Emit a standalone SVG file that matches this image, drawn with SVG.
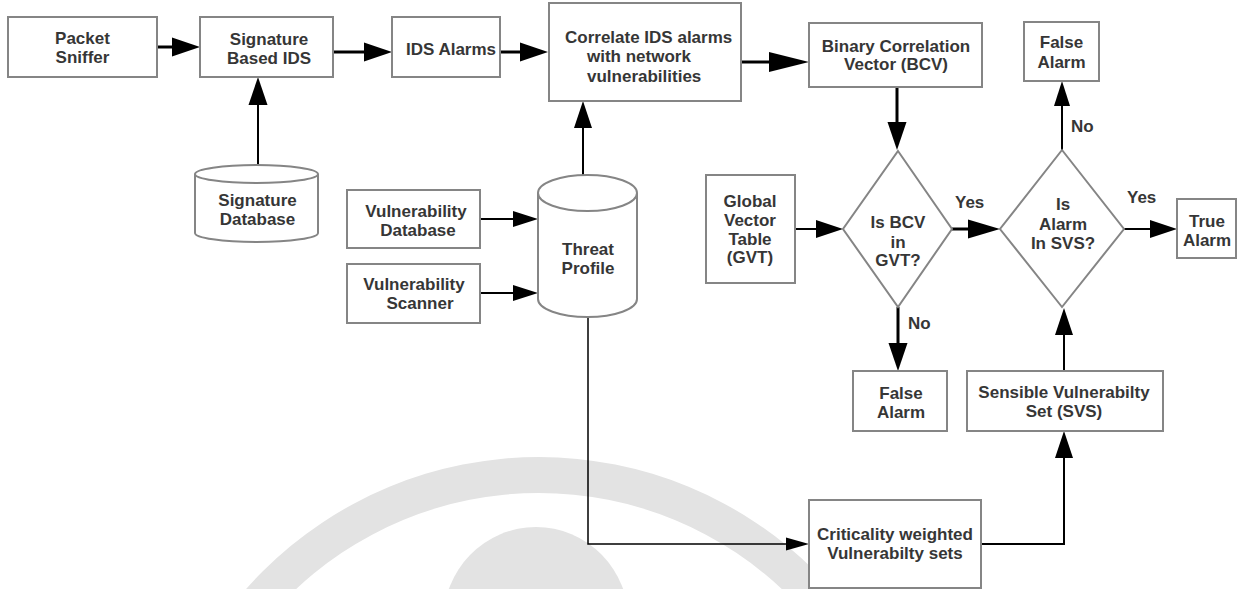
<svg xmlns="http://www.w3.org/2000/svg" width="1248" height="589" viewBox="0 0 1248 589">
  <style>
    .box { fill: #ffffff; stroke: #858585; stroke-width: 2; }
    .lbl { font-family: "Liberation Sans", Arial, sans-serif; font-weight: bold; font-size: 17px; fill: #363636; text-anchor: middle; }
    .lbs { font-family: "Liberation Sans", Arial, sans-serif; font-weight: bold; font-size: 17px; fill: #363636; }
    .thick { fill: none; stroke: #000; stroke-width: 3; }
    .thin { fill: none; stroke: #000; stroke-width: 2; }
    .hair { fill: none; stroke: #000; stroke-width: 1.5; }
  </style>
  <defs>
    <!-- arrowheads: reference point at the base, tip extends forward -->
    <marker id="ahA" viewBox="0 -10 28 20" markerWidth="28" markerHeight="20" refX="0" refY="0" orient="auto" markerUnits="userSpaceOnUse"><path d="M0,-9.5 L28,0 L0,9.5 Z" fill="#000"/></marker>
    <marker id="ahL" viewBox="0 -10 40 20" markerWidth="40" markerHeight="20" refX="0" refY="0" orient="auto" markerUnits="userSpaceOnUse"><path d="M0,-10 L40,0 L0,10 Z" fill="#000"/></marker>
    <marker id="ahY" viewBox="0 -10 32 20" markerWidth="32" markerHeight="20" refX="0" refY="0" orient="auto" markerUnits="userSpaceOnUse"><path d="M0,-9.5 L32,0 L0,9.5 Z" fill="#000"/></marker>
    <marker id="ahM" viewBox="0 -9 27 18" markerWidth="27" markerHeight="18" refX="0" refY="0" orient="auto" markerUnits="userSpaceOnUse"><path d="M0,-9 L27,0 L0,9 Z" fill="#000"/></marker>
    <marker id="ahV" viewBox="0 -8 25 16" markerWidth="25" markerHeight="16" refX="0" refY="0" orient="auto" markerUnits="userSpaceOnUse"><path d="M0,-8 L25,0 L0,8 Z" fill="#000"/></marker>
    <marker id="ahS" viewBox="0 -7 23 14" markerWidth="23" markerHeight="14" refX="0" refY="0" orient="auto" markerUnits="userSpaceOnUse"><path d="M0,-6.5 L23,0 L0,6.5 Z" fill="#000"/></marker>
  </defs>

  <rect width="1248" height="589" fill="#ffffff"/>

  <!-- faint emblem in the background -->
  <g id="emblem" fill="#e3e3e3">
    <path fill-rule="evenodd" d="M148,848 A391,391 0 1 1 930,848 A391,391 0 1 1 148,848 Z M184,848 A355,355 0 1 0 894,848 A355,355 0 1 0 184,848 Z"/>
    <ellipse cx="536" cy="622" rx="93" ry="95"/>
  </g>

  <!-- connectors -->
  <g id="connectors">
    <path class="thick" d="M157,47 H172" marker-end="url(#ahA)"/>
    <path class="thick" d="M333,52 H364" marker-end="url(#ahA)"/>
    <path class="thin" d="M258,165 V105" marker-end="url(#ahA)"/>
    <path class="thick" d="M500,52 H520" marker-end="url(#ahA)"/>
    <path class="thick" d="M741,62 H769" marker-end="url(#ahL)"/>
    <path class="thick" d="M897,87 V122" marker-end="url(#ahA)"/>
    <path class="thin" d="M583,175 V128" marker-end="url(#ahM)"/>
    <path class="thin" d="M480,219 H513" marker-end="url(#ahV)"/>
    <path class="thin" d="M480,293 H513" marker-end="url(#ahV)"/>
    <path class="thin" d="M795,229 H816" marker-end="url(#ahM)"/>
    <path class="thick" d="M952,229 H968" marker-end="url(#ahY)"/>
    <path class="thin" d="M1124,229 H1150" marker-end="url(#ahM)"/>
    <path class="thin" d="M1062,150 V106" marker-end="url(#ahV)"/>
    <path class="thick" d="M898,307 V343" marker-end="url(#ahA)"/>
    <path class="thin" d="M1064,371 V335" marker-end="url(#ahM)"/>
    <path class="hair" d="M588,317 V544 H786" marker-end="url(#ahS)"/>
    <path class="thin" d="M981,544 H1064 V458" marker-end="url(#ahM)"/>
    <text class="lbs" x="955" y="208">Yes</text>
    <text class="lbs" x="1127" y="203">Yes</text>
    <text class="lbs" x="1071" y="132">No</text>
    <text class="lbs" x="908" y="329">No</text>
  </g>

  <g id="packet-sniffer">
    <rect class="box" x="8" y="17" width="149" height="60"/>
    <text class="lbl" x="82.5" y="44">Packet</text>
    <text class="lbl" x="82.5" y="63">Sniffer</text>
  </g>

  <g id="signature-ids">
    <rect class="box" x="200" y="17" width="133" height="60"/>
    <text class="lbl" x="269" y="45">Signature</text>
    <text class="lbl" x="269" y="64">Based IDS</text>
  </g>

  <g id="ids-alarms">
    <rect class="box" x="392" y="17" width="108" height="60"/>
    <text class="lbl" x="451" y="55">IDS Alarms</text>
  </g>

  <g id="correlate">
    <rect class="box" x="549" y="3" width="192" height="98"/>
    <text class="lbs" x="565" y="43">Correlate IDS alarms</text>
    <text class="lbs" x="587" y="62">with network</text>
    <text class="lbs" x="587" y="82">vulnerabilities</text>
  </g>

  <g id="bcv">
    <rect class="box" x="809" y="23" width="173" height="64"/>
    <text class="lbl" x="896" y="52">Binary Correlation</text>
    <text class="lbl" x="896" y="70">Vector (BCV)</text>
  </g>

  <g id="false-alarm-top">
    <rect class="box" x="1024" y="22" width="75" height="59"/>
    <text class="lbl" x="1061.5" y="48">False</text>
    <text class="lbl" x="1061.5" y="68">Alarm</text>
  </g>

  <g id="signature-database">
    <path class="box" d="M195,174 V233 A61.5,9 0 0 0 318,233 V174 A61.5,9 0 0 0 195,174 Z"/>
    <path fill="none" stroke="#858585" stroke-width="2" d="M195,174 A61.5,9 0 0 0 318,174"/>
    <text class="lbl" x="257.5" y="206">Signature</text>
    <text class="lbl" x="257.5" y="225">Database</text>
  </g>

  <g id="vulnerability-database">
    <rect class="box" x="347" y="190" width="133" height="58"/>
    <text class="lbl" x="416" y="217">Vulnerability</text>
    <text class="lbl" x="418" y="236">Database</text>
  </g>

  <g id="vulnerability-scanner">
    <rect class="box" x="347" y="264" width="133" height="59"/>
    <text class="lbl" x="414" y="290">Vulnerability</text>
    <text class="lbl" x="420" y="309">Scanner</text>
  </g>

  <g id="threat-profile">
    <path class="box" d="M538,193 V299 A49.5,18 0 0 0 637,299 V193 A49.5,18 0 0 0 538,193 Z"/>
    <path fill="none" stroke="#858585" stroke-width="2" d="M538,193 A49.5,18 0 0 0 637,193"/>
    <text class="lbl" x="588" y="255">Threat</text>
    <text class="lbl" x="588" y="274">Profile</text>
  </g>

  <g id="gvt">
    <rect class="box" x="706" y="175" width="89" height="108"/>
    <text class="lbl" x="750" y="207">Global</text>
    <text class="lbl" x="750" y="226">Vector</text>
    <text class="lbl" x="750" y="245">Table</text>
    <text class="lbl" x="750" y="263">(GVT)</text>
  </g>

  <g id="decision-bcv">
    <polygon class="box" points="898,151 952,229 898,307 843,229"/>
    <text class="lbl" x="898" y="228">Is BCV</text>
    <text class="lbl" x="898" y="248">in</text>
    <text class="lbl" x="898" y="266">GVT?</text>
  </g>

  <g id="decision-svs">
    <polygon class="box" points="1062,150 1124,229 1062,307 1000,229"/>
    <text class="lbl" x="1063" y="210">Is</text>
    <text class="lbl" x="1063" y="230">Alarm</text>
    <text class="lbl" x="1063" y="249">In SVS?</text>
  </g>

  <g id="true-alarm">
    <rect class="box" x="1177" y="199" width="59" height="59"/>
    <text class="lbl" x="1207" y="227">True</text>
    <text class="lbl" x="1207" y="246">Alarm</text>
  </g>

  <g id="false-alarm-bottom">
    <rect class="box" x="853" y="371" width="94" height="60"/>
    <text class="lbl" x="901" y="399">False</text>
    <text class="lbl" x="901" y="418">Alarm</text>
  </g>

  <g id="svs">
    <rect class="box" x="967" y="371" width="196" height="60"/>
    <text class="lbl" x="1064" y="398">Sensible Vulnerabilty</text>
    <text class="lbl" x="1064" y="417">Set (SVS)</text>
  </g>

  <g id="criticality">
    <rect class="box" x="809" y="500" width="172" height="88"/>
    <text class="lbl" x="895" y="540">Criticality weighted</text>
    <text class="lbl" x="895" y="559">Vulnerabilty sets</text>
  </g>
</svg>
